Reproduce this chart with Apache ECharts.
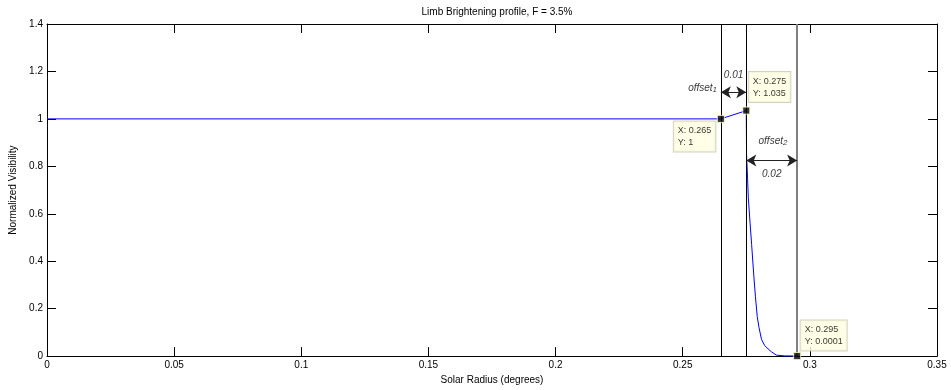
<!DOCTYPE html>
<html>
<head>
<meta charset="utf-8">
<script src="https://cdn.jsdelivr.net/npm/echarts@6/dist/echarts.min.js"></script>
<style>html,body{margin:0;padding:0;background:#fff}#c{width:951px;height:390px}</style>
</head>
<body>
<div id="c"></div>
<script>
// Profile samples
const xData = [0, 0.265, 0.275, 0.2751, 0.2755, 0.2758, 0.2765, 0.2771, 0.2780, 0.2786, 0.2793, 0.2800, 0.2810, 0.2822, 0.2836, 0.2850, 0.2869, 0.2900, 0.2950];
const yData = [1, 1, 1.035, 0.85, 0.75, 0.667, 0.56, 0.47, 0.333, 0.25, 0.167, 0.12, 0.07, 0.045, 0.03, 0.017, 0.004, 0.001, 0.0001];
// Data tips
const tipX = [0.265, 0.275, 0.295];
const tipY = [1, 1.035, 0.0001];
const tipLines = [['X: 0.265', 'Y: 1'], ['X: 0.275', 'Y: 1.035'], ['X: 0.295', 'Y: 0.0001']];
// Vertical reference lines
const vLines = [0.265, 0.275, 0.295];
// Double arrows: [x1, x2, y]
const arrows = [[0.265, 0.275, 1.1125], [0.275, 0.295, 0.825]];
// Annotations
const annX = [0.270, 0.2635, 0.2855, 0.285];
const annY = [1.183, 1.129, 0.904, 0.767];
const annText = ['0.01', '{a|offset}{s|1}', '{a|offset}{s|2}', '0.02'];
const annAlign = ['center', 'right', 'center', 'center'];
// Axes
const xMin = 0, xMax = 0.35, xStep = 0.05;
const yMin = 0, yMax = 1.4, yStep = 0.2;
const titleText = 'Limb Brightening profile, F = 3.5%';
const xName = 'Solar Radius (degrees)';
const yName = 'Normalized Visibility';

const FONT = 'Liberation Sans, Arial, Helvetica, sans-serif';
const chart = echarts.init(document.getElementById('c'), null, {renderer: 'canvas'});

const axisCommon = {
  type: 'value',
  axisLine: {show: true, onZero: false, lineStyle: {color: '#000', width: 1}},
  axisTick: {show: true, inside: true, length: 9, lineStyle: {color: '#000', width: 1}},
  splitLine: {show: false},
};

const tipLabelPos = [
  {position: [-1.5, 6.5], align: 'right', verticalAlign: 'top'},
  {position: [6.5, -4.5], align: 'left', verticalAlign: 'bottom'},
  {position: [7.5, -1.5], align: 'left', verticalAlign: 'bottom'}
];

const option = {
  animation: false,
  backgroundColor: '#fff',
  title: {
    text: titleText, left: 492, top: 2, textAlign: 'center',
    textStyle: {fontFamily: FONT, fontSize: 10, fontWeight: 'normal', color: '#000'}
  },
  grid: {left: 47, right: 14, top: 24, bottom: 30, containLabel: false},
  xAxis: [
    Object.assign({}, axisCommon, {
      position: 'bottom', min: xMin, max: xMax, interval: xStep,
      name: xName, nameLocation: 'middle', nameGap: 17,
      nameTextStyle: {fontFamily: FONT, fontSize: 10, color: '#000'},
      axisLabel: {show: true, margin: 4, fontFamily: FONT, fontSize: 10, color: '#000'}
    }),
    Object.assign({}, axisCommon, {
      position: 'top', min: xMin, max: xMax, interval: xStep,
      axisLabel: {show: false}
    })
  ],
  yAxis: [
    Object.assign({}, axisCommon, {
      position: 'left', min: yMin, max: yMax, interval: yStep,
      name: yName, nameLocation: 'middle', nameGap: 25, nameRotate: 90,
      nameTextStyle: {fontFamily: FONT, fontSize: 10, color: '#000'},
      axisLabel: {show: true, margin: 4, fontFamily: FONT, fontSize: 10, color: '#000'}
    }),
    Object.assign({}, axisCommon, {
      position: 'right', min: yMin, max: yMax, interval: yStep,
      axisLabel: {show: false}
    })
  ],
  series: [
    {
      type: 'line', name: 'profile', xAxisIndex: 0, yAxisIndex: 0,
      data: xData.map((x, i) => [x, yData[i]]),
      showSymbol: false, symbol: 'none', smooth: false, clip: false,
      lineStyle: {color: '#0000ff', width: 1}, z: 3
    },
    {
      type: 'line', name: 'vlines', data: [], xAxisIndex: 0, yAxisIndex: 0, z: 2,
      markLine: {
        silent: true, symbol: 'none', animation: false,
        label: {show: false},
        data: vLines.map((v, i) => [
          {coord: [v, yMin], lineStyle: {color: i === 2 ? '#808080' : '#000', width: i === 2 ? 2 : 1, type: 'solid'}},
          {coord: [v, yMax]}
        ])
      }
    },
    {
      type: 'line', name: 'arrows', data: [], xAxisIndex: 0, yAxisIndex: 0, z: 4,
      markLine: {
        silent: true, animation: false,
        symbol: ['arrow', 'arrow'], symbolSize: [9, 10],
        label: {show: false},
        lineStyle: {color: '#222', width: 1, type: 'solid'},
        data: arrows.map(a => [{coord: [a[0], a[2]]}, {coord: [a[1], a[2]]}])
      }
    },
    {
      type: 'scatter', name: 'annotations', xAxisIndex: 0, yAxisIndex: 0,
      symbolSize: 0, silent: true, z: 6,
      data: annX.map((x, i) => ({
        value: [x, annY[i]],
        label: {
          show: true, position: 'inside', formatter: annText[i], align: annAlign[i],
          verticalAlign: 'middle',
          fontFamily: FONT, fontStyle: 'italic', fontSize: 10, color: '#000',
          rich: {
            a: {fontFamily: FONT, fontStyle: 'italic', fontSize: 10, lineHeight: 10, verticalAlign: 'top', color: '#000'},
            s: {fontFamily: FONT, fontStyle: 'italic', fontSize: 8, lineHeight: 8, padding: [7, 0, 0, 0], verticalAlign: 'bottom', color: '#000'}
          }
        }
      }))
    },
    {
      type: 'scatter', name: 'datatips', xAxisIndex: 0, yAxisIndex: 0,
      symbol: 'rect', symbolSize: 7, z: 10, silent: true, clip: false,
      itemStyle: {color: '#000', borderColor: '#ffffc8', borderWidth: 1},
      data: tipX.map((x, i) => ({
        value: [x, tipY[i]],
        label: Object.assign({
          show: true, formatter: tipLines[i].map(s => '{t|' + s + '}').join('\n'),
          fontFamily: FONT, fontSize: 9, lineHeight: 12, color: '#000',
          backgroundColor: '#ffffe1', borderColor: '#c8c8b4', borderWidth: 1,
          padding: [3, 4, 3, 4],
          rich: {t: {fontFamily: FONT, fontSize: 9, lineHeight: 12, color: '#000', align: 'left'}}
        }, tipLabelPos[i])
      }))
    }
  ]
};
chart.setOption(option);
</script>
</body>
</html>
